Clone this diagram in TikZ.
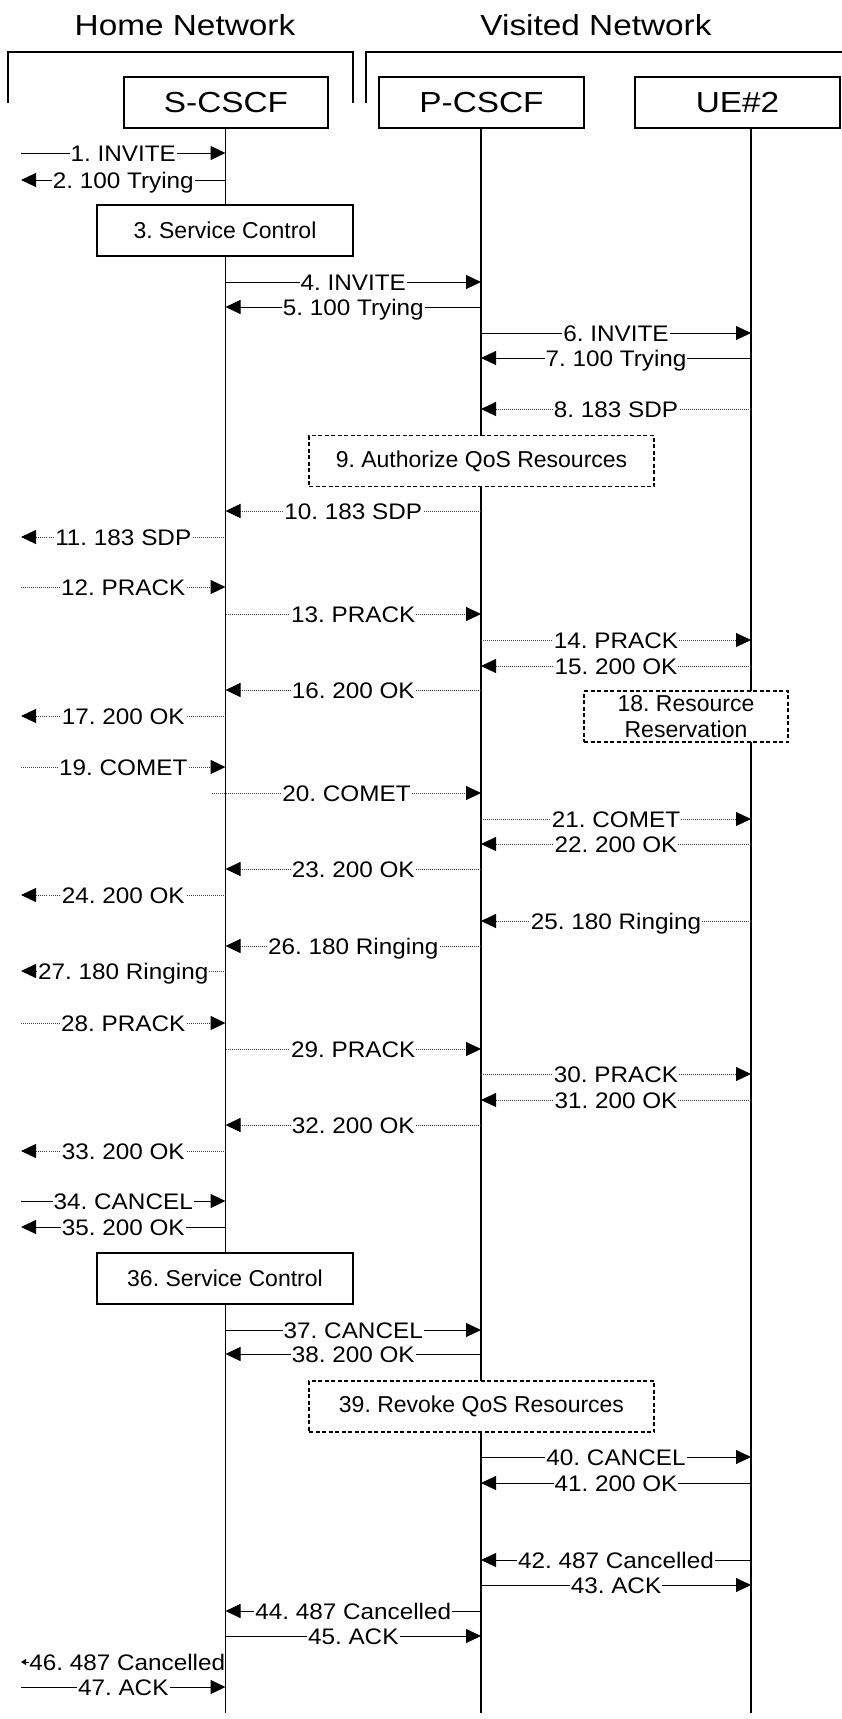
\documentclass[tikz,border=0pt]{standalone}
\usepackage{fontspec}
\setmainfont{Liberation Sans}
\newfontfamily\titlefont{Liberation Sans}[FakeStretch=1.15]
\newfontfamily\msgfont{Liberation Sans}[FakeStretch=1.08]
\usetikzlibrary{arrows.meta}
\frenchspacing

\tikzset{
    msg/.style={line width=1pt, black, -{Triangle[length=15pt,width=14pt,black]}},
    dmsg/.style={msg, black!75, dash pattern=on 1pt off 1pt},
    tinymsg/.style={line width=1pt, black, -{Triangle[length=5pt,width=6pt,black]}},
    lbl/.style={fill=white, text=black, inner xsep=1pt, inner ysep=0.5pt,
        text height=16pt, text depth=0pt, font=\msgfont\fontsize{22.5}{26}\selectfont},
    pbox/.style={draw, line width=1.5pt, fill=white, minimum width=205, minimum height=51,
        inner sep=0pt, font=\titlefont\fontsize{29}{32}\selectfont},
    ctrlbox/.style={draw, line width=1.5pt, fill=white, minimum height=51, inner sep=0pt,
        font=\fontsize{23}{26}\selectfont},
    qosbox/.style={ctrlbox, line width=1.3pt, dash pattern=on 4pt off 2.5pt, align=center},
    life/.style={line width=1.5pt, black}
}

\begin{document}
\begin{tikzpicture}[x=1pt, y=-1pt]

    \useasboundingbox (0,0) rectangle (842,1719);

    % === NETWORK BRACKETS ===
    \node[font=\titlefont\fontsize{29}{32}\selectfont] (home) at (185,25) {Home Network};
    \node[font=\titlefont\fontsize{29}{32}\selectfont] (visited) at (596,25) {Visited Network};
    \draw[line width=1.5pt] (8,103) -- (8,52) -- (353,52) -- (353,103);
    \draw[line width=1.5pt] (366,103) -- (366,52) -- (842,52);

    % === ENTITIES ===
    \node[pbox, minimum width=204] (scscf) at (226,102.5) {S-CSCF};
    \node[pbox] (pcscf) at (481.5,102.5) {P-CSCF};
    \node[pbox] (ue2) at (737.5,102.5) {UE\#2};

    % lifeline tops and ends
    \coordinate (sL) at (225.5,128);
    \coordinate (pL) at (481,128);
    \coordinate (uL) at (751,128);
    \coordinate (sEnd) at (225.5,1713);
    \coordinate (pEnd) at (481,1713);
    \coordinate (uEnd) at (751,1713);
    % outside end of the home network messages
    \coordinate (hn) at (21,0);
    \coordinate (hn20) at (212,0);

    \draw[life] (sL) -- (sEnd);
    \draw[life] (pL) -- (pEnd);
    \draw[life] (uL) -- (uEnd);

    % === PROCEDURE BOXES ===
    \node[ctrlbox, minimum width=256] (svc3) at (225,230.5) {3. Service Control};
    \node[qosbox, minimum width=345] (qos9) at (481.5,461) {9. Authorize QoS Resources};
    \node[qosbox, minimum width=204] (res18) at (686,716.5) {18. Resource\\Reservation};
    \node[ctrlbox, minimum width=256] (svc36) at (225,1278.5) {36. Service Control};
    \node[qosbox, minimum width=345] (qos39) at (481.5,1406.5) {39. Revoke QoS Resources};

    % === SESSION SET-UP (solid) ===
    \foreach \yy/\src/\dst/\txt in {
        153/hn/sL/1. INVITE, 180/sL/hn/2. 100 Trying,
        282/sL/pL/4. INVITE, 307/pL/sL/5. 100 Trying,
        333/pL/uL/6. INVITE, 358/uL/pL/7. 100 Trying}
        \draw[msg] (\src |- 0,\yy) -- node[lbl] {\txt} (\dst |- 0,\yy);

    % === PROVISIONAL RESPONSES (dotted) ===
    \foreach \yy/\src/\dst/\txt in {
        409/uL/pL/8. 183 SDP, 511/pL/sL/10. 183 SDP, 537/sL/hn/11. 183 SDP,
        587/hn/sL/12. PRACK, 614/sL/pL/13. PRACK, 640/pL/uL/14. PRACK,
        666/uL/pL/15. 200 OK, 690/pL/sL/16. 200 OK, 716/sL/hn/17. 200 OK,
        767/hn/sL/19. COMET, 793/hn20/pL/20. COMET, 819/pL/uL/21. COMET,
        844/uL/pL/22. 200 OK, 869/pL/sL/23. 200 OK, 895/sL/hn/24. 200 OK,
        921/uL/pL/25. 180 Ringing, 946/pL/sL/26. 180 Ringing, 971/sL/hn/27. 180 Ringing,
        1023/hn/sL/28. PRACK, 1049/sL/pL/29. PRACK, 1074/pL/uL/30. PRACK,
        1100/uL/pL/31. 200 OK, 1125/pL/sL/32. 200 OK, 1151/sL/hn/33. 200 OK}
        \draw[dmsg] (\src |- 0,\yy) -- node[lbl] {\txt} (\dst |- 0,\yy);

    % === CANCELLATION (solid) ===
    \foreach \yy/\src/\dst/\txt in {
        1201/hn/sL/34. CANCEL, 1227/sL/hn/35. 200 OK,
        1330/sL/pL/37. CANCEL, 1354/pL/sL/38. 200 OK,
        1457/pL/uL/40. CANCEL, 1483/uL/pL/41. 200 OK,
        1560/uL/pL/42. 487 Cancelled, 1585/pL/uL/43. ACK,
        1611/pL/sL/44. 487 Cancelled, 1636/sL/pL/45. ACK,
        1687/hn/sL/47. ACK}
        \draw[msg] (\src |- 0,\yy) -- node[lbl] {\txt} (\dst |- 0,\yy);

    \draw[tinymsg] (sL |- 0,1662) -- node[lbl, xshift=4pt, inner xsep=0pt] {46. 487 Cancelled} (hn |- 0,1662);

\end{tikzpicture}
\end{document}
